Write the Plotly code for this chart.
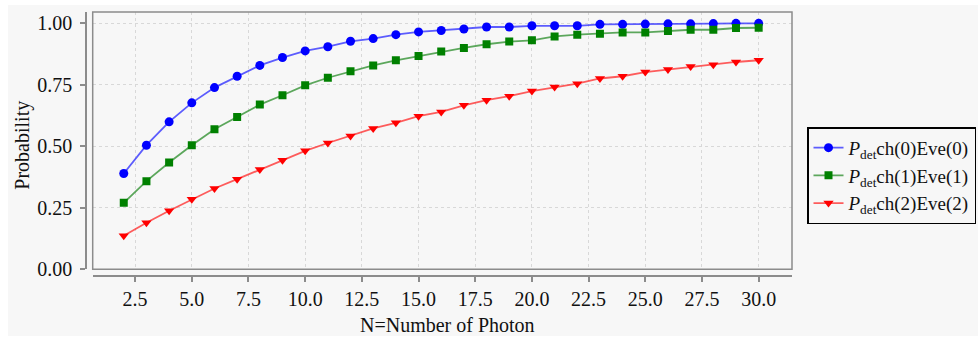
import plotly.graph_objects as go

N = list(range(2, 31))
p_eve0 = [0.389, 0.504, 0.599, 0.676, 0.738, 0.784, 0.828, 0.860, 0.887, 0.904,
          0.926, 0.937, 0.953, 0.964, 0.970, 0.976, 0.984, 0.984, 0.989, 0.989,
          0.989, 0.995, 0.995, 0.996, 0.997, 0.997, 0.998, 0.999, 0.999]
p_eve1 = [0.270, 0.358, 0.434, 0.504, 0.569, 0.619, 0.669, 0.707, 0.747, 0.778,
          0.804, 0.828, 0.849, 0.866, 0.885, 0.899, 0.914, 0.925, 0.930, 0.946,
          0.953, 0.957, 0.962, 0.962, 0.968, 0.973, 0.973, 0.980, 0.981]
p_eve2 = [0.136, 0.189, 0.238, 0.284, 0.328, 0.366, 0.405, 0.443, 0.481, 0.513,
          0.541, 0.572, 0.595, 0.622, 0.639, 0.666, 0.687, 0.703, 0.724, 0.740,
          0.754, 0.775, 0.784, 0.801, 0.811, 0.824, 0.831, 0.842, 0.849]

series_names = ["<i>P</i><sub>det</sub>ch(0)Eve(0)",
                "<i>P</i><sub>det</sub>ch(1)Eve(1)",
                "<i>P</i><sub>det</sub>ch(2)Eve(2)"]
x_tick_vals = [2.5, 5.0, 7.5, 10.0, 12.5, 15.0, 17.5, 20.0, 22.5, 25.0, 27.5, 30.0]
x_tick_text = ["2.5", "5.0", "7.5", "10.0", "12.5", "15.0", "17.5", "20.0", "22.5", "25.0", "27.5", "30.0"]
y_tick_vals = [0.0, 0.25, 0.5, 0.75, 1.0]
y_tick_text = ["0.00", "0.25", "0.50", "0.75", "1.00"]

FONT = "Liberation Serif"
styles = [
    dict(color="#0000ff", line="rgba(40,40,255,0.75)", symbol="circle", size=9),
    dict(color="#008000", line="rgba(40,140,40,0.75)", symbol="square", size=8),
    dict(color="#ff0000", line="rgba(255,40,40,0.75)", symbol="triangle-down", size=9),
]

fig = go.Figure()
for name, ys, st in zip(series_names, [p_eve0, p_eve1, p_eve2], styles):
    fig.add_trace(go.Scatter(
        x=N, y=ys, name=name, mode="lines+markers",
        line=dict(color=st["line"], width=1.8),
        marker=dict(color=st["color"], symbol=st["symbol"], size=st["size"], line=dict(width=0)),
    ))

W, H = 978, 337
ml, mr, mt, mb = 86, 186, 12, 61
pw, ph = W - ml - mr, H - mt - mb

def px2x(px):
    return (px - ml) / pw

def py2y(py):
    return (H - mb - py) / ph

axis_common = dict(
    showline=True, linecolor="#8c8c8c", linewidth=1.5,
    ticks="outside", ticklen=5, tickcolor="#8c8c8c", tickwidth=1.5,
    showgrid=True, gridcolor="#d8d8d8", griddash="dot", gridwidth=1,
    zeroline=False,
    tickfont=dict(family=FONT, size=20, color="#111"),
)

fig.update_layout(
    width=W, height=H,
    margin=dict(l=ml, r=mr, t=mt, b=mb, autoexpand=False),
    paper_bgcolor="white",
    plot_bgcolor="#f7f7f7",
    showlegend=True,
    legend=dict(
        x=px2x(807), y=py2y(127.3), xanchor="left", yanchor="top",
        bgcolor="#f7f7f7", bordercolor="#000", borderwidth=1.5,
        font=dict(family=FONT, size=19, color="#111"),
    ),
    xaxis=dict(
        axis_common, range=[0.63, 31.47], domain=[px2x(92.7), 1.0],
        anchor="free", position=0,
        tickvals=x_tick_vals, ticktext=x_tick_text,
        ticklabelstandoff=0,
    ),
    yaxis=dict(
        axis_common, range=[0, 1.045], domain=[py2y(269.3), 1.0],
        anchor="free", position=0,
        tickvals=y_tick_vals, ticktext=y_tick_text,
        ticklabelstandoff=4,
    ),
    shapes=[
        dict(type="rect", xref="paper", yref="paper", layer="below",
             x0=px2x(8), x1=px2x(978), y0=py2y(336), y1=py2y(5),
             fillcolor="#f7f7f7", line=dict(width=0)),
        dict(type="rect", xref="x domain", yref="y domain", layer="above",
             x0=0, x1=1, y0=0, y1=1, line=dict(color="#8c8c8c", width=1.5)),
    ],
    annotations=[
        dict(text="Probability", xref="paper", yref="paper", x=px2x(23), y=py2y(145.7),
             xanchor="center", yanchor="middle", textangle=-90, showarrow=False,
             font=dict(family=FONT, size=20, color="#111")),
        dict(text="N=Number of Photon", xref="paper", yref="paper", x=px2x(447.5), y=py2y(325),
             xanchor="center", yanchor="middle", showarrow=False,
             font=dict(family=FONT, size=20, color="#111")),
    ],
)

fig.write_html("out.html", config={"displayModeBar": False},
               post_script="document.body.style.margin='0';document.body.style.overflow='hidden';")
